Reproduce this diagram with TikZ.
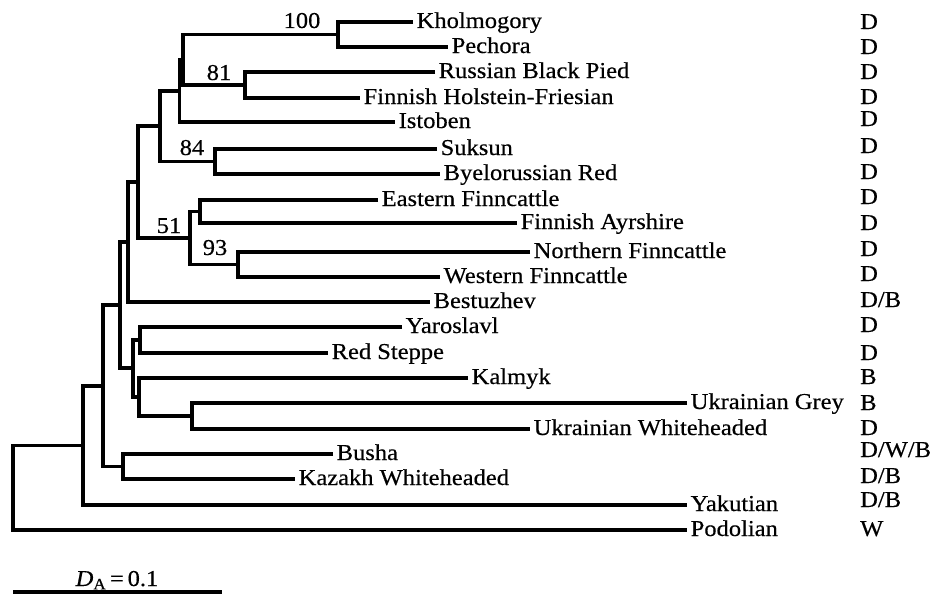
\documentclass[tikz,border=0pt]{standalone}
\usepackage{fontspec}
\setmainfont{Liberation Serif}[FakeStretch=1.08,FakeBold=0.4]
\begin{document}
\begin{tikzpicture}[x=1pt,y=-1pt,
  branch/.style={line width=3.3pt,line join=miter},
  leaf/.style={anchor=west,inner xsep=3.5pt,inner ysep=0pt,text height=14pt,text depth=2pt,font=\fontsize{22.7}{26}\selectfont},
  usage/.style={anchor=west,inner sep=0pt,text height=14pt,text depth=2pt,font=\fontsize{22.7}{26}\selectfont},
  boot/.style={anchor=base,inner sep=0pt,font=\fontsize{22.7}{26}\selectfont}]
\useasboundingbox (0,0) rectangle (931,594);
% leaves
\node[leaf] (K)   at (413,22)  {Kholmogory};
\node[leaf] (P)   at (448,47)  {Pechora};
\node[leaf] (RBP) at (435,72)  {Russian Black Pied};
\node[leaf] (FHF) at (360,98)  {Finnish Holstein-Friesian};
\node[leaf] (Ist) at (395,122) {Istoben};
\node[leaf] (Suk) at (437,149) {Suksun};
\node[leaf] (BR)  at (440,174) {Byelorussian Red};
\node[leaf] (EF)  at (378,200) {Eastern Finncattle};
\node[leaf] (FA)  at (517,223) {Finnish Ayrshire};
\node[leaf] (NF)  at (530,252) {Northern Finncattle};
\node[leaf] (WF)  at (440,277) {Western Finncattle};
\node[leaf] (Bes) at (430,302) {Bestuzhev};
\node[leaf] (Yar) at (402,327) {Yaroslavl};
\node[leaf] (RS)  at (328,353) {Red Steppe};
\node[leaf] (Kal) at (468,378) {Kalmyk};
\node[leaf] (UG)  at (687,403) {Ukrainian Grey};
\node[leaf] (UW)  at (530,429) {Ukrainian Whiteheaded};
\node[leaf] (Bu)  at (333,454) {Busha};
\node[leaf] (Kaz) at (295,479) {Kazakh Whiteheaded};
\node[leaf] (Yak) at (687,505) {Yakutian};
\node[leaf] (Pod) at (687,530) {Podolian};
% internal nodes
\coordinate (n1)  at (338,34.5);
\coordinate (n2)  at (245,85);
\coordinate (n3)  at (183,59.5);
\coordinate (n4)  at (179.5,91);
\coordinate (n5)  at (215,161.5);
\coordinate (n6)  at (160,126);
\coordinate (n7)  at (200,211.5);
\coordinate (n8)  at (238,264.5);
\coordinate (n9)  at (190,238);
\coordinate (n10) at (138,182);
\coordinate (n11) at (128,242);
\coordinate (n12) at (140,340);
\coordinate (n13) at (192,416);
\coordinate (n14) at (139,397);
\coordinate (n15) at (133,368);
\coordinate (n16) at (120,305);
\coordinate (n17) at (123,466.5);
\coordinate (n18) at (103,386);
\coordinate (n19) at (83,445.5);
\coordinate (n20) at (13,488);
% branches
\draw[branch] (K.west) -| (n1) |- (P.west);
\draw[branch] (RBP.west) -| (n2) |- (FHF.west);
\draw[branch] (n1) -| (n3) |- (n2);
\draw[branch] (n3) -| (n4) |- (Ist.west);
\draw[branch] (Suk.west) -| (n5) |- (BR.west);
\draw[branch] (n4) -| (n6) |- (n5);
\draw[branch] (EF.west) -| (n7) |- (FA.west);
\draw[branch] (NF.west) -| (n8) |- (WF.west);
\draw[branch] (n7) -| (n9) |- (n8);
\draw[branch] (n6) -| (n10) |- (n9);
\draw[branch] (n10) -| (n11) |- (Bes.west);
\draw[branch] (Yar.west) -| (n12) |- (RS.west);
\draw[branch] (UG.west) -| (n13) |- (UW.west);
\draw[branch] (Kal.west) -| (n14) |- (n13);
\draw[branch] (n12) -| (n15) |- (n14);
\draw[branch] (n11) -| (n16) |- (n15);
\draw[branch] (Bu.west) -| (n17) |- (Kaz.west);
\draw[branch] (n16) -| (n18) |- (n17);
\draw[branch] (n18) -| (n19) |- (Yak.west);
\draw[branch] (n19) -| (n20) |- (Pod.west);
% bootstrap values
\node[boot] (b100) at (302,28)  {100};
\node[boot] (b81)  at (219,80)  {81};
\node[boot] (b84)  at (192,155) {84};
\node[boot] (b51)  at (169,233) {51};
\node[boot] (b93)  at (215,255) {93};
% usage column
\node[usage] (u1)  at (860,23)  {D};
\node[usage] (u2)  at (860,48)  {D};
\node[usage] (u3)  at (860,73)  {D};
\node[usage] (u4)  at (860,98)  {D};
\node[usage] (u5)  at (860,120) {D};
\node[usage] (u6)  at (860,147) {D};
\node[usage] (u7)  at (860,173) {D};
\node[usage] (u8)  at (860,198) {D};
\node[usage] (u9)  at (860,224) {D};
\node[usage] (u10) at (860,250) {D};
\node[usage] (u11) at (860,275) {D};
\node[usage] (u12) at (860,301) {D/B};
\node[usage] (u13) at (860,326) {D};
\node[usage] (u14) at (860,354) {D};
\node[usage] (u15) at (860,378) {B};
\node[usage] (u16) at (860,404) {B};
\node[usage] (u17) at (860,429) {D};
\node[usage] (u18) at (860,451) {D/W/B};
\node[usage] (u19) at (860,477) {D/B};
\node[usage] (u20) at (860,501) {D/B};
\node[usage] (u21) at (860,530) {W};
% scale bar
\coordinate (s1) at (13,592);
\coordinate (s2) at (222,592);
\draw[branch] (s1) -- (s2);
\node[boot] (scale) at (117,586) {\textit{D}\textsubscript{A}\,=\,0.1};
\end{tikzpicture}
\end{document}
